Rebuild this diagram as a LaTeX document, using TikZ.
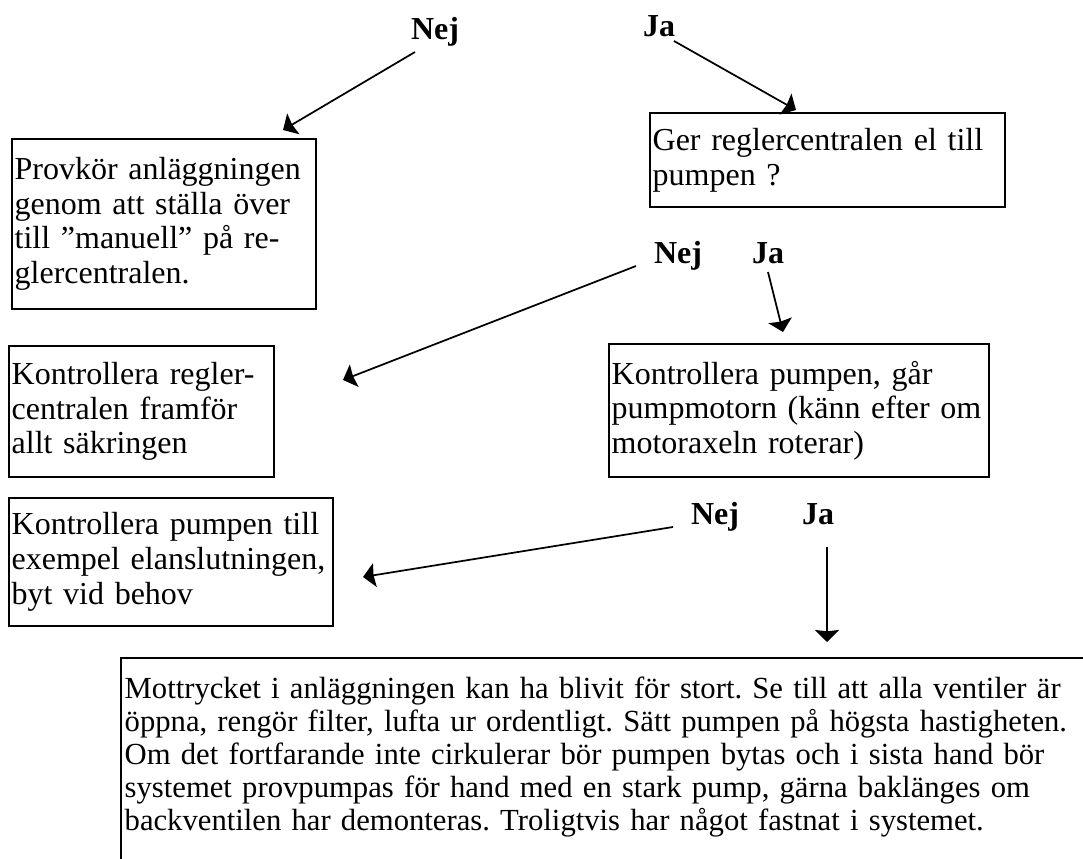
\documentclass[tikz,border=0pt]{standalone}
\usepackage{fontspec}
\setmainfont{Liberation Serif}
\usetikzlibrary{arrows.meta}
\frenchspacing
\begin{document}
\begin{tikzpicture}[x=0.75pt,y=-0.75pt,
  box/.style={draw, line width=1.5pt, anchor=north west, inner xsep=2pt, inner ysep=0pt, align=left, font=\fontsize{24}{26}\selectfont},
  lab/.style={font=\fontsize{24}{26}\selectfont\bfseries, anchor=base, inner sep=0pt},
  arr/.style={line width=1.3pt, -{Stealth[length=9pt,width=18pt,inset=1pt]}}]
\clip (0,0) rectangle (1083,859);
% boxes
\node[box, minimum width=228pt, minimum height=127.5pt, text width=224pt] (b1) at (11,138)
  {Provkör anläggningen\\genom att ställa över\\till ”manuell” på re-\\glercentralen.};
\node[box, minimum width=266.25pt, minimum height=70.5pt, text width=262.25pt] (b2) at (649,112)
  {Ger reglercentralen el till\\pumpen ?};
\node[box, minimum width=285pt, minimum height=99.75pt, text width=281pt] (b3) at (608,343)
  {Kontrollera pumpen, går\\pumpmotorn (känn efter om\\motoraxeln roterar)};
\node[box, minimum width=198.75pt, minimum height=98.25pt, text width=194.75pt] (b4) at (8,345)
  {Kontrollera regler-\\centralen framför\\allt säkringen};
\node[box, minimum width=243pt, minimum height=96pt, text width=239pt] (b5) at (8,497)
  {Kontrollera pumpen till\\exempel elanslutningen,\\byt vid behov};
\node[box, draw=none, text width=740pt, inner ysep=13.5pt, font=\fontsize{23}{24.8}\selectfont] (b6) at (121,658)
  {Mottrycket i anläggningen kan ha blivit för stort. Se till att alla ventiler är\\
   öppna, rengör filter, lufta ur ordentligt. Sätt pumpen på högsta hastigheten.\\
   Om det fortfarande inte cirkulerar bör pumpen bytas och i sista hand bör\\
   systemet provpumpas för hand med en stark pump, gärna baklänges om\\
   backventilen har demonteras. Troligtvis har något fastnat i systemet.};
\draw[line width=1.5pt] (b6.north west) rectangle ([yshift=-40pt]b6.south east);
% labels
\node[lab] (n1) at (435,40) {Nej};
\node[lab] (j1) at (659,37) {Ja};
\node[lab] (n2) at (678,264) {Nej};
\node[lab] (j2) at (768,264) {Ja};
\node[lab] (n3) at (715,524) {Nej};
\node[lab] (j3) at (818,524) {Ja};
% arrow ends
\coordinate (n1s) at (415,52);  \coordinate (n1e) at (283,130);
\coordinate (j1s) at (674,41);  \coordinate (j1e) at (796,110);
\coordinate (n2s) at (636,266); \coordinate (n2e) at (343,380);
\coordinate (j2s) at (768,272); \coordinate (j2e) at (783,332);
\coordinate (n3s) at (673,527); \coordinate (n3e) at (363,577);
\coordinate (j3s) at (827,547); \coordinate (j3e) at (827,642);
\draw[arr] (n1s) -- (n1e);
\draw[arr] (j1s) -- (j1e);
\draw[arr] (n2s) -- (n2e);
\draw[arr] (j2s) -- (j2e);
\draw[arr] (n3s) -- (n3e);
\draw[arr] (j3s) -- (j3e);
\end{tikzpicture}
\end{document}
